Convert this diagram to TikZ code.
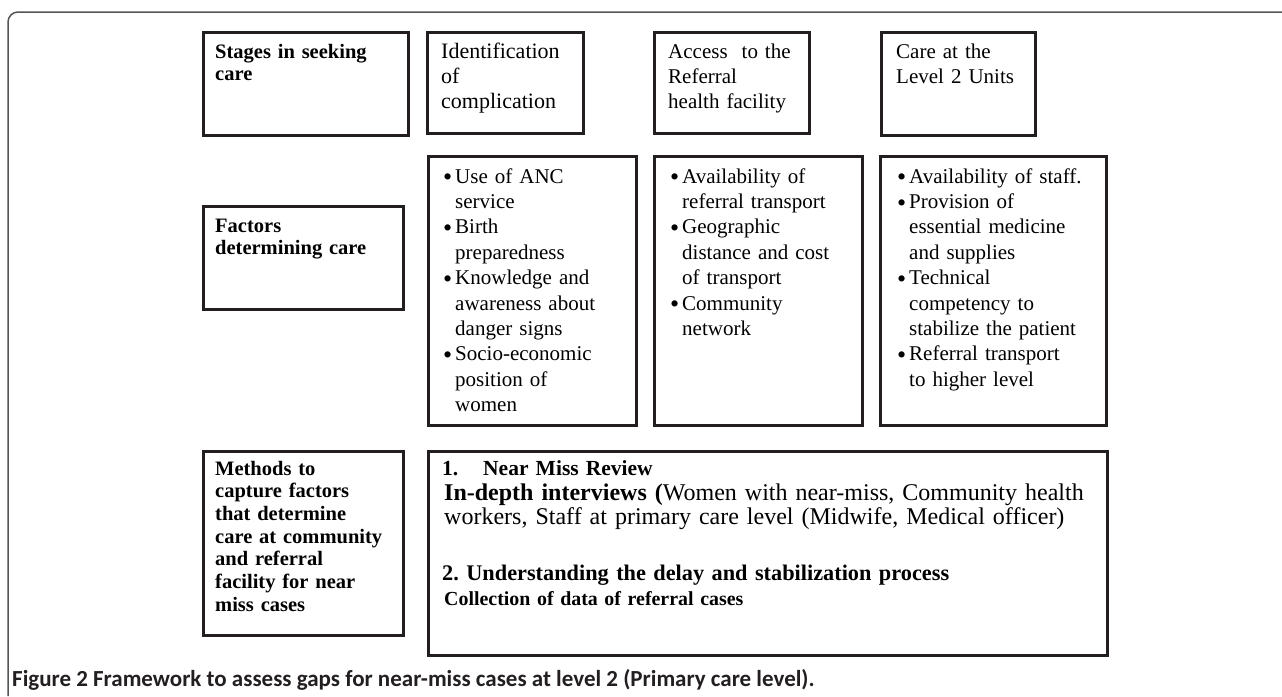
\documentclass[tikz,border=0pt]{standalone}
\usepackage{fontspec}
\setmainfont{Liberation Serif}
\newfontfamily\capfont{Carlito}
\usepackage{tikz}
\usepackage{xcolor}
\definecolor{bline}{HTML}{231F20}
\definecolor{fgray}{HTML}{555555}
\newcommand{\itm}{\leavevmode\llap{\raisebox{-2.6pt}{\fontsize{26}{0}\selectfont\textbullet}\hspace{3pt}}}
\tikzset{
  box/.style={draw=bline,line width=3pt,anchor=north west,inner sep=0pt},
  hd/.style={anchor=base west,inner sep=0pt,text width=200pt,align=left,
    font=\fontsize{20.5}{22.7}\selectfont\bfseries},
  txt/.style={anchor=base west,inner sep=0pt,text width=240pt,align=left,
    font=\fontsize{21}{25.4}\selectfont},
  frame/.style={fgray,line width=1.5pt,rounded corners=10pt},
}

\begin{document}
\begin{tikzpicture}[x=1pt,y=-1pt]
    \useasboundingbox (0,0) rectangle (1282,696);
    % outer frame
    \draw[frame] (8,696) |- (1282,12);
    % stages row
    \node[box,minimum width=205pt,minimum height=103pt] (stages) at (201.5,30.5) {};
    \node[box,minimum width=156pt,minimum height=101pt] (ident) at (425.5,30.5) {};
    \node[box,minimum width=155pt,minimum height=101pt] (access) at (652.5,30.5) {};
    \node[box,minimum width=154pt,minimum height=103pt] (care) at (879.5,30.5) {};
    \node[hd] (stagesT) at ([shift={(13.5,27.5)}]stages.north west) {Stages in seeking\\care};
    \node[txt,font=\fontsize{22}{25}\selectfont] (identT) at ([shift={(15.5,27.5)}]ident.north west) {Identification\\of\\complication};
    \node[txt,font=\fontsize{21}{25}\selectfont] (accessT) at ([shift={(15.5,27.5)}]access.north west) {Access\ \ to the\\Referral\\health facility};
    \node[txt,font=\fontsize{21}{25}\selectfont] (careT) at ([shift={(16.5,27.5)}]care.north west) {Care at the\\Level 2 Units};
    % factors row
    \node[box,minimum width=200pt,minimum height=103pt] (factors) at (201.5,204.5) {};
    \node[box,minimum width=208pt,minimum height=269pt] (fident) at (426.5,154.5) {};
    \node[box,minimum width=208pt,minimum height=269pt] (faccess) at (652.5,154.5) {};
    \node[box,minimum width=226pt,minimum height=269pt] (fcare) at (878.5,154.5) {};
    \node[hd] (factorsT) at ([shift={(13.5,27.5)}]factors.north west) {Factors\\determining care};
    \node[txt] (fidentT) at ([shift={(28.5,28.5)}]fident.north west)
      {\itm Use of ANC\\service\\\itm Birth\\preparedness\\\itm Knowledge and\\awareness about\\danger signs\\\itm Socio-economic\\position of\\women};
    \node[txt] (faccessT) at ([shift={(29.5,28.5)}]faccess.north west)
      {\itm Availability of\\referral transport\\\itm Geographic\\distance and cost\\of transport\\\itm Community\\network};
    \node[txt] (fcareT) at ([shift={(30.5,28.5)}]fcare.north west)
      {\itm Availability of staff.\\\itm Provision of\\essential medicine\\and supplies\\\itm Technical\\competency to\\stabilize the patient\\\itm Referral transport\\to higher level};
    % methods row
    \node[box,minimum width=200pt,minimum height=184pt] (methods) at (201.5,449.5) {};
    \node[box,minimum width=679pt,minimum height=204pt] (review) at (426.5,449.5) {};
    \node[hd] (methodsT) at ([shift={(13.5,25.5)}]methods.north west)
      {Methods to\\capture factors\\that determine\\care at community\\and referral\\facility for near\\miss cases};
    \node[hd,text width=600pt,font=\fontsize{21.5}{25}\selectfont\bfseries] (reviewA)
      at ([shift={(15.5,25.5)}]review.north west) {\makebox[41pt][l]{1.}Near Miss Review};
    \node[txt,text width=670pt,font=\fontsize{24}{24}\selectfont] (reviewB) at ([shift={(17.5,50.5)}]review.north west)
      {\textbf{In-depth interviews (}Women with near-miss, Community health\\workers, Staff at primary care level (Midwife, Medical officer)};
    \node[hd,text width=600pt,font=\fontsize{22.3}{25}\selectfont\bfseries] (reviewC)
      at ([shift={(15.5,130.5)}]review.north west) {2.\ Understanding the delay and stabilization process};
    \node[hd,text width=600pt,font=\fontsize{19.9}{22}\selectfont\bfseries] (reviewD)
      at ([shift={(17.5,155.5)}]review.north west) {Collection of data of referral cases};
    % caption
    \node[anchor=base west,inner sep=0pt,text=bline,font=\capfont\fontsize{23}{26}\selectfont\bfseries] (caption)
      at (12,686) {Figure 2 Framework to assess gaps for near-miss cases at level 2 (Primary care level).};
  \end{tikzpicture}
\end{document}
